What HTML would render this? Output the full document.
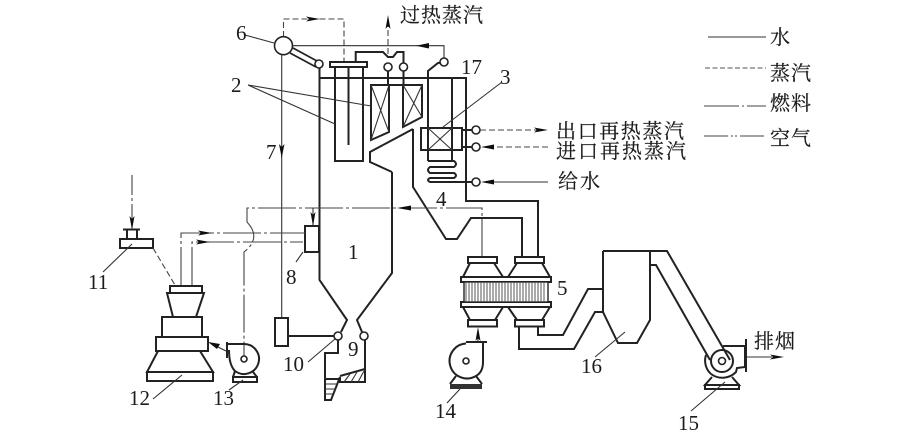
<!DOCTYPE html>
<html><head><meta charset="utf-8"><style>
html,body{margin:0;padding:0;background:#fff}
svg{display:block}
text{fill:#1a1a1a}
.n{font-family:"Liberation Serif",serif;font-size:21px}
.c{font-family:"Liberation Serif","Noto Serif CJK SC",serif;font-size:20px;stroke:#1a1a1a;stroke-width:.2}
.t{fill:none;stroke:#222;stroke-width:2;stroke-linejoin:miter}
.m{fill:none;stroke:#333;stroke-width:1.1}
.d{fill:none;stroke:#444;stroke-width:1.1;stroke-dasharray:6 3}
.a{fill:none;stroke:#444;stroke-width:1.1;stroke-dasharray:38 3 3 3}
.c0{fill:#fff;stroke:#222;stroke-width:1.6}
.ar{fill:#111;stroke:none}
</style></head><body>
<svg width="900" height="432" viewBox="0 0 900 432" xmlns="http://www.w3.org/2000/svg">
<defs><filter id="b"><feGaussianBlur stdDeviation="0.3"/></filter></defs>
<g filter="url(#b)">
<!-- steam top -->
<path class="d" d="M283.500 37V19H344V62"/>
<path class="ar" d="M306 16.500L320 19L306 21.500L309 19Z"/>
<path class="m" d="M292 45.700H444V58"/>
<path class="ar" d="M416 45.700L429 43V48.500Z"/>
<circle class="c0" cx="283.500" cy="45.700" r="9"/>
<path class="t" style="stroke-width:1.800" d="M293 48L317 61M290 53L316 67"/>
<circle class="c0" cx="319" cy="64" r="4"/>
<path class="m" d="M245 35L274 43"/>
<path class="m" d="M281.700 55V318"/>
<path class="ar" d="M279 144L281.700 158L284.500 144L281.700 147Z"/>
<!-- furnace -->
<path class="t" d="M319.500 68V280L347 320L341 332M319.500 78H466V201H538V257"/>
<path class="t" d="M392 172V273L357 320L362 332"/>
<path class="t" d="M413 129L370 152V162L392 172M413 129V187L446 239H457L471 218H522V257"/>
<!-- platen -->
<rect class="t" x="330" y="62" width="37" height="5"/>
<path class="t" d="M335 67V161H363V67"/>
<path class="t" d="M348.500 67V145"/>
<path class="t" d="M355.700 62V52H383L388 57H393L397 52H403.500V63"/>
<path class="d" d="M388 54V24"/>
<path class="ar" d="M385.500 29L388 15L390.500 29L388 26Z"/>
<circle class="c0" cx="388" cy="67" r="4"/><circle class="c0" cx="403.500" cy="67" r="4"/>
<path class="t" d="M388 71V85M403.500 71V85"/>
<path class="t" d="M371 85H422V117L403 127V85H389V132L371 140Z"/>
<path class="m" d="M371 85L389 132M389 85L371 140M403 85L422 117M422 85L403 127"/>
<path class="m" d="M248 85L371 106M248 85L335 124"/>
<!-- reheater -->
<path class="t" d="M444 62L438 63L428 71V161M452 78V161"/>
<rect class="t" x="421" y="128" width="41" height="22"/>
<path class="m" d="M428 128L452 150M452 128L428 150M502 82L443 127"/>
<path class="t" d="M428 161H454Q458 164 454 167H430Q426 170 430 173H454Q458 175.500 454 178H430Q426 180 430 182H472"/>
<path class="t" d="M462 130H472M462 147H472"/>
<circle class="c0" cx="476" cy="130" r="4"/><circle class="c0" cx="476" cy="147" r="4"/><circle class="c0" cx="476" cy="182" r="4"/>
<circle class="c0" cx="444" cy="62" r="4"/>
<path class="d" d="M480 130H538"/>
<path class="ar" d="M534 127.500L548 130L534 132.500L537 130Z"/>
<path class="d" d="M548 147H492"/>
<path class="ar" d="M481 147L494 144.500V149.500Z"/>
<path class="m" d="M548 182H492"/>
<path class="ar" d="M481 182L494 179.500V184.500Z"/>
<!-- air line -->
<path class="a" d="M482 257V208H247V222Q262 238 244 252V356"/>
<path class="ar" d="M397 208L411 205.500V210.500Z"/>
<path class="m" d="M313 208V226"/>
<path class="ar" d="M310.500 212L313 226L315.500 212L313 215Z"/>
<!-- burner -->
<rect class="t" x="305" y="226" width="14" height="26"/>
<path class="m" d="M303 252L296 262"/>
<path class="a" d="M181 285V233H305"/>
<path class="a" d="M192 285V242H303"/>
<path class="ar" d="M198 230.500L212 233L198 235.500L201 233Z"/>
<path class="ar" d="M196 239.500L210 242L196 244.500L199 242Z"/>
<!-- 7 box -->
<rect class="t" x="275" y="318" width="13" height="28"/>
<path class="t" d="M288 336H334"/>
<circle class="c0" cx="338" cy="336" r="4"/><circle class="c0" cx="364" cy="336" r="4"/>
<path class="m" d="M335 339L308 362"/>
<!-- slag -->
<path class="t" d="M338 340V353H325V400H331L340 377V382H365V340"/>
<path class="t" d="M325 379H340M340 376L365 369"/>
<path class="m" d="M325 384H338M325 389H336M325 394H333M344 382L350 374M351 382L357 372M358 382L364 371"/>
<!-- 11 -->
<path class="a" style="stroke-dasharray:20 3 3 3" d="M132 175V228"/>
<path class="ar" d="M129.500 216L132 230L134.500 216L132 219Z"/>
<path class="t" d="M123 229.500H140M127 230V239M137 230V239"/>
<rect class="t" x="120" y="239" width="33" height="9"/>
<path class="m" d="M132 244L103 272"/>
<path class="d" d="M153 248L175 285"/>
<!-- 12 -->
<rect class="t" x="170" y="286" width="32" height="7"/>
<path class="t" d="M167 293H204L196 317H173ZM162 317H202V337H162Z"/>
<rect class="t" x="156" y="337" width="52" height="14"/>
<path class="t" d="M158 351L147 372H213L200 351"/>
<rect class="t" x="147" y="372" width="66" height="9"/>
<path class="m" d="M182 375L153 399"/>
<!-- 13 -->
<path class="t" d="M227 342V358M227 344H244A15 15 0 1 1 235 371C231 367 229 360 229 350"/>
<circle class="c0" cx="244" cy="359" r="3"/>
<path class="m" d="M226 351L212 344"/>
<path class="ar" d="M208 342L220 344L217 349Z"/>
<path class="t" d="M235 371L233 377M253 372L257 377"/>
<rect class="t" x="233" y="377" width="24" height="5"/>
<path class="m" d="M243 380L229 390"/>
<!-- preheater -->
<rect class="t" x="468" y="257" width="29" height="6"/><rect class="t" x="515" y="257" width="29" height="6"/>
<path class="t" d="M470 263L463 277M494 263L503 277M517 263L508 277M542 263L550 277"/>
<rect class="t" x="461" y="277" width="90" height="5"/><rect class="t" x="461" y="302" width="90" height="5"/>
<rect x="464" y="282" width="84" height="20" fill="#fff" stroke="#222" stroke-width="1.400"/>
<path d="M466 282V302M469 282V302M472 282V302M475 282V302M478 282V302M481 282V302M484 282V302M487 282V302M490 282V302M493 282V302M496 282V302M499 282V302M502 282V302M505 282V302M508 282V302M511 282V302M514 282V302M517 282V302M520 282V302M523 282V302M526 282V302M529 282V302M532 282V302M535 282V302M538 282V302M541 282V302M544 282V302" stroke="#555" stroke-width="1" fill="none"/>
<path class="t" d="M463 307L470 320M503 307L495 320M508 307L517 320M550 307L542 320"/>
<rect class="t" x="468" y="320" width="29" height="6.500"/><rect class="t" x="515" y="320" width="29" height="6.500"/>
<path class="m" d="M478 342V330"/>
<path class="ar" d="M475.500 341L478 327L480.500 341L478 338Z"/>
<!-- fan 14 -->
<path class="t" d="M466 343.500A17.500 17.500 0 1 0 476 376Q483 372 483 362V342M466 342H487"/>
<circle class="c0" cx="466" cy="361" r="3"/>
<path class="t" d="M456 376L450 384M476 376L482 384"/>
<rect x="450" y="384" width="32" height="5" fill="#333"/>
<path class="m" d="M460 389L447 403"/>
<!-- ducts -->
<path class="t" d="M538 327V335H563L588 289H603M519 327V349H574L595 312H603"/>
<path class="t" d="M603 251H667L730 360M603 251V312L618 343H637L650 320V251M650 265H656L710 360"/>
<path class="m" d="M625 332L595 357"/>
<!-- fan 15 -->
<path class="t" d="M723 346H745V367L737 368L736 372A19 19 0 0 1 711 374"/>
<path class="t" d="M711 374A18 18 0 0 1 706 355"/>
<path class="t" d="M746 339V372" />
<circle class="t" cx="722" cy="361" r="11" fill="#fff"/>
<circle class="c0" cx="722" cy="361" r="3.500"/>
<path class="t" d="M712 377L705 385H739L732 377"/>
<rect class="t" x="705" y="385" width="34" height="4"/>
<path class="m" d="M747 357H772"/>
<path class="ar" d="M770 354.500L784 357L770 359.500L773 357Z"/>
<path class="m" d="M725 382L691 411"/>
<!-- legend -->
<path class="m" d="M708 37H766"/>
<path d="M705 68H766" fill="none" stroke="#555" stroke-width="1" stroke-dasharray="5 2.500"/>
<path d="M704 106H766" fill="none" stroke="#444" stroke-width="1.100" stroke-dasharray="35 3 2 3"/>
<path d="M704 136H766" fill="none" stroke="#444" stroke-width="1.100" stroke-dasharray="24 3 2 2 2 3"/>
<!-- numbers -->
<text class="n" x="236" y="40">6</text>
<text class="n" x="231" y="92">2</text>
<text class="n" x="266" y="159">7</text>
<text class="n" x="461" y="74">17</text>
<text class="n" x="500" y="84">3</text>
<text class="n" x="436" y="206">4</text>
<text class="n" x="557" y="295">5</text>
<text class="n" x="348" y="259">1</text>
<text class="n" x="286" y="284">8</text>
<text class="n" x="348" y="356">9</text>
<text class="n" x="283" y="371">10</text>
<text class="n" x="88" y="289">11</text>
<text class="n" x="129" y="405">12</text>
<text class="n" x="213" y="405">13</text>
<text class="n" x="435" y="418">14</text>
<text class="n" x="678" y="430">15</text>
<text class="n" x="581" y="373">16</text>
<!-- cjk -->
<text class="c" x="400" y="22" textLength="83" lengthAdjust="spacing">过热蒸汽</text>
<text class="c" x="556" y="138" textLength="128" lengthAdjust="spacing">出口再热蒸汽</text>
<text class="c" x="556" y="158" textLength="130" lengthAdjust="spacing">进口再热蒸汽</text>
<text class="c" x="558" y="188" textLength="42" lengthAdjust="spacing">给水</text>
<text class="c" x="770" y="44">水</text>
<text class="c" x="770" y="80" textLength="41" lengthAdjust="spacing">蒸汽</text>
<text class="c" x="770" y="110" textLength="41" lengthAdjust="spacing">燃料</text>
<text class="c" x="770" y="145" textLength="41" lengthAdjust="spacing">空气</text>
<text class="c" x="754" y="348" textLength="41" lengthAdjust="spacing">排烟</text>
</g>
</svg>
</body></html>
